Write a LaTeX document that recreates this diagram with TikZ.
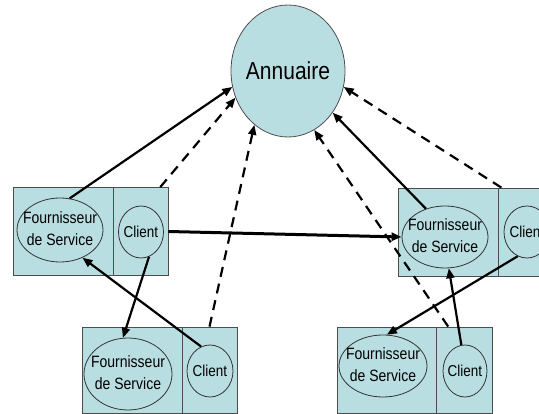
\documentclass[tikz,border=0pt]{standalone}
\usepackage{fontspec}
\setmainfont{Liberation Sans}
\usepackage{graphicx}
\definecolor{boite}{HTML}{B9DEE2}
\usetikzlibrary{arrows.meta, shapes.geometric}
% texte un peu etire en hauteur
\newcommand{\etire}[1]{\scalebox{1}[1.17]{#1}}
\newcommand{\fournisseur}{\etire{\begin{tabular}{@{}c@{}}Fournisseur\\de Service\end{tabular}}}

\begin{document}
\begin{tikzpicture}[x=1pt, y=-1pt,
    cellule/.style={draw=black!70, fill=boite, line width=0.8pt, minimum height=88, inner sep=0},
    fourn/.style={ellipse, draw=black!80, line width=0.8pt, minimum width=86, minimum height=64, inner xsep=-7pt, inner ysep=0, font=\fontsize{14}{18.5}\selectfont},
    client/.style={ellipse, draw=black!80, line width=0.8pt, minimum width=45, minimum height=52, inner xsep=-3pt, inner ysep=0, font=\fontsize{13.5}{15}\selectfont},
    lien/.style={line width=2.2pt, -{Triangle[length=10pt, width=8pt]}},
    annonce/.style={lien, dash pattern=on 10pt off 7pt}]
    \useasboundingbox (0,0) rectangle (539,414);
    \clip (0,0) rectangle (539,414);

    % annuaire
    \node[ellipse, draw=black!70, fill=boite, line width=0.8pt, minimum width=114, minimum height=132,
        inner xsep=-4pt, font=\fontsize{21}{25}\selectfont] (annuaire) at (288,71) {\etire{Annuaire}};

    % haut gauche
    \node[cellule, minimum width=100] (cellfhg) at (63,231.5) {};
    \node[cellule, minimum width=55] (cellchg) at (140.5,231.5) {};
    \node[fourn] (fhg) at (60,230) {\fournisseur};
    \node[client] (chg) at (141,232) {\etire{Client}};

    % haut droite
    \node[cellule, minimum width=100] (cellfhd) at (448,232) {};
    \node[cellule, minimum width=58] (cellchd) at (527,232) {};
    \node[fourn, minimum height=62] (fhd) at (445,237) {\fournisseur};
    \node[client, minimum width=46] (chd) at (527,232) {\etire{Client}};

    % bas gauche
    \node[cellule, minimum width=100, minimum height=86] (cellfbg) at (132,370) {};
    \node[cellule, minimum width=55, minimum height=86] (cellcbg) at (209.5,370) {};
    \node[fourn, minimum width=88, minimum height=72] (fbg) at (128,374) {\fournisseur};
    \node[client, minimum width=46] (cbg) at (210,371) {\etire{Client}};

    % bas droite
    \node[cellule, minimum width=99, minimum height=86] (cellfbd) at (386.5,370) {};
    \node[cellule, minimum width=56, minimum height=86] (cellcbd) at (464,370) {};
    \node[fourn, minimum width=88, minimum height=62] (fbd) at (383,366) {\fournisseur};
    \node[client, minimum width=44] (cbd) at (465,371) {\etire{Client}};

    % vers l'annuaire
    \draw[lien] (fhg.73) -- (annuaire.196);
    \draw[annonce] (cellchg.66) -- (annuaire.207);
    \draw[annonce] (cellcbg.north) -- (annuaire.238);
    \draw[annonce] (cellcbd.110) -- (annuaire.294);
    \draw[lien] (fhd.124) -- (annuaire.317);
    \draw[annonce] (cellchd.120) -- (annuaire.344);

    % entre clients et fournisseurs
    \draw[lien, line width=3pt] (cellchg.east) -- (fhd.west);
    \draw[lien] (chg.288) -- (fbg.98);
    \draw[lien] (cbg.110) -- (fhg.309);
    \draw[lien] (chd.249) -- (fbd.83);
    \draw[lien] (cbd.98) -- (fhd.277);
\end{tikzpicture}
\end{document}
